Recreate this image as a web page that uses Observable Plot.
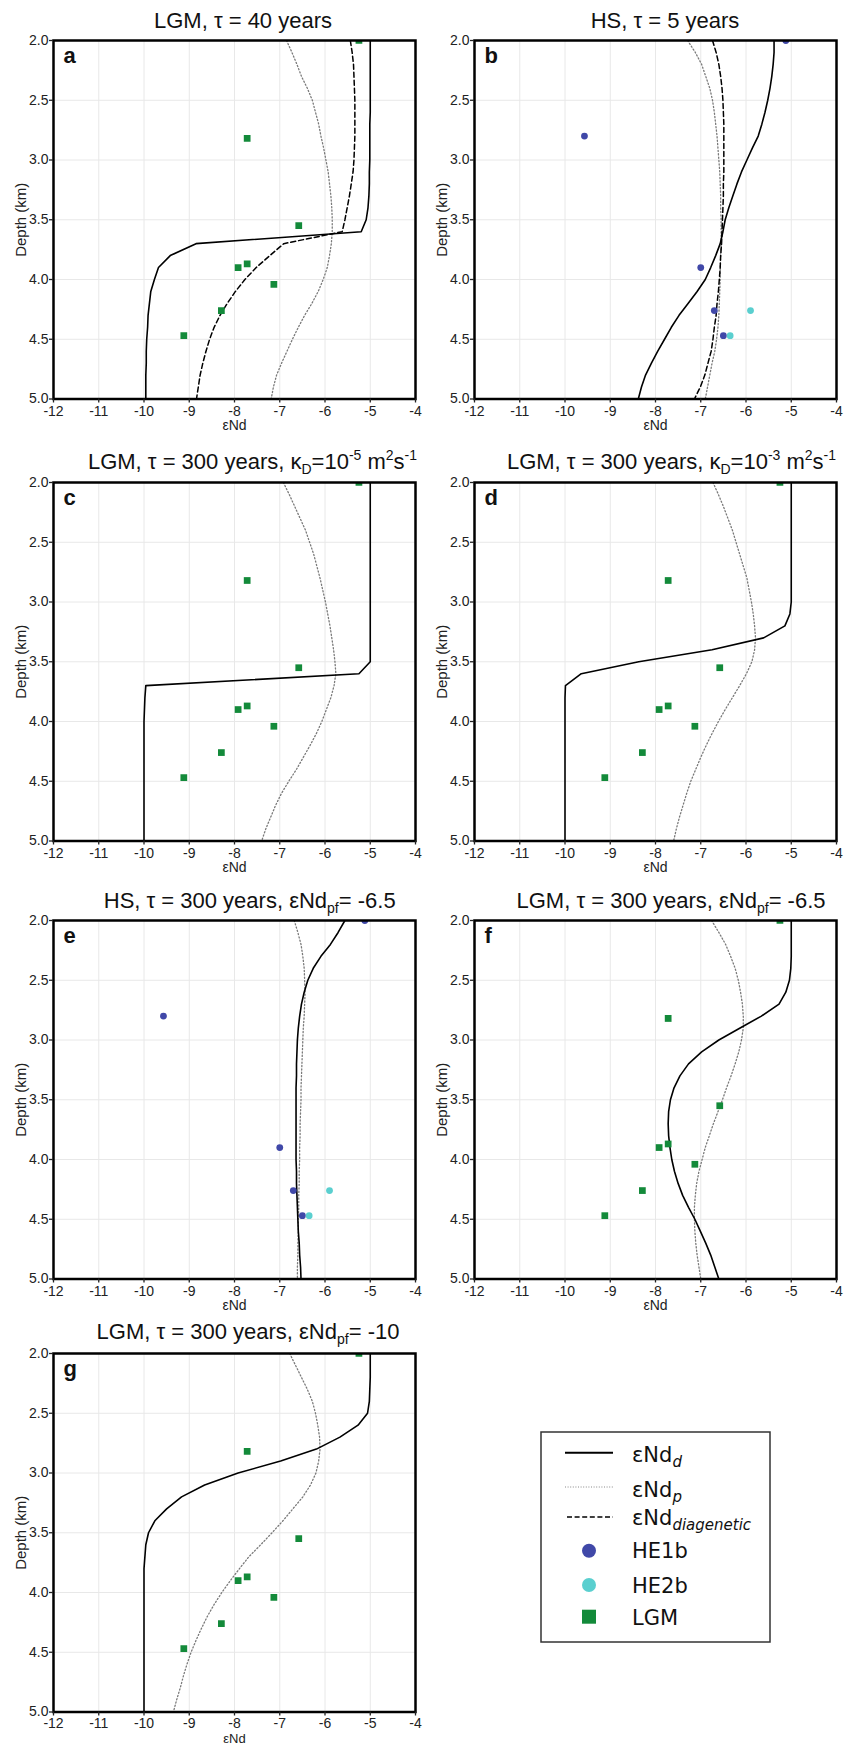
<!DOCTYPE html>
<html><head><meta charset="utf-8">
<script src="https://cdn.jsdelivr.net/npm/d3@7"></script>
<script src="https://cdn.jsdelivr.net/npm/@observablehq/plot@0.6"></script>
<style>
body{margin:0;background:#fff}
#root{position:relative;width:853px;height:1746px;background:#fff;overflow:hidden}
.panel{position:absolute}
.title{position:absolute;font-family:"Liberation Sans",Arial,sans-serif;font-size:22px;line-height:22px;color:#111;white-space:nowrap;transform:translateX(-50%)}
.title sub,.title sup{font-size:14px;line-height:0;position:relative;vertical-align:baseline}
.title sub{top:5px}
.title sup{top:-9px}
</style></head>
<body><div id="root"></div>
<script>
// ---- data ----
const xTicks = [-12, -11, -10, -9, -8, -7, -6, -5, -4];
const yTicks = [2.0, 2.5, 3.0, 3.5, 4.0, 4.5, 5.0];
const modelDepth = [2.0,2.1,2.2,2.3,2.4,2.5,2.6,2.7,2.8,2.9,3.0,3.1,3.2,3.3,3.4,3.5,3.6,3.7,3.8,3.9,4.0,4.1,4.2,4.3,4.4,4.5,4.6,4.7,4.8,4.9,5.0];

const lgmE     = [-5.25, -7.72, -6.58, -7.92, -7.72, -7.13, -8.29, -9.12];
const lgmDepth = [2.00, 2.82, 3.55, 3.90, 3.87, 4.04, 4.26, 4.47];
const he1bE     = [-5.12, -9.57, -7.00, -6.70, -6.50];
const he1bDepth = [2.00, 2.80, 3.90, 4.26, 4.47];
const he2bE     = [-5.90, -6.35];
const he2bDepth = [4.26, 4.47];

// panel a
const aD    = [-5.00,-5.00,-5.00,-5.00,-5.00,-5.00,-5.00,-5.01,-5.01,-5.01,-5.01,-5.02,-5.02,-5.03,-5.05,-5.09,-5.20,-8.85,-9.42,-9.68,-9.77,-9.85,-9.88,-9.91,-9.92,-9.94,-9.95,-9.95,-9.96,-9.96,-9.96];
const aP    = [-6.85,-6.73,-6.62,-6.52,-6.39,-6.28,-6.21,-6.14,-6.09,-6.03,-5.98,-5.93,-5.90,-5.87,-5.85,-5.84,-5.84,-5.86,-5.90,-5.95,-6.04,-6.15,-6.29,-6.45,-6.59,-6.72,-6.84,-6.96,-7.07,-7.14,-7.19];
const aDiag = [-5.44,-5.40,-5.37,-5.36,-5.35,-5.34,-5.34,-5.34,-5.34,-5.35,-5.36,-5.38,-5.42,-5.46,-5.51,-5.56,-5.62,-6.91,-7.22,-7.52,-7.77,-7.98,-8.16,-8.32,-8.45,-8.55,-8.63,-8.70,-8.76,-8.80,-8.84];
// panel b
const bD    = [-5.38,-5.38,-5.40,-5.43,-5.47,-5.52,-5.58,-5.65,-5.73,-5.86,-5.98,-6.10,-6.20,-6.29,-6.38,-6.46,-6.51,-6.57,-6.67,-6.78,-6.90,-7.08,-7.28,-7.48,-7.65,-7.80,-7.95,-8.09,-8.22,-8.31,-8.38];
const bP    = [-7.29,-7.12,-6.98,-6.89,-6.80,-6.74,-6.70,-6.67,-6.64,-6.62,-6.60,-6.58,-6.57,-6.56,-6.56,-6.55,-6.55,-6.55,-6.56,-6.57,-6.57,-6.58,-6.59,-6.60,-6.62,-6.65,-6.69,-6.75,-6.80,-6.85,-6.90];
const bDiag = [-6.74,-6.66,-6.60,-6.56,-6.53,-6.51,-6.50,-6.49,-6.49,-6.49,-6.49,-6.49,-6.50,-6.50,-6.51,-6.52,-6.53,-6.54,-6.56,-6.57,-6.59,-6.61,-6.64,-6.66,-6.70,-6.73,-6.77,-6.84,-6.91,-7.01,-7.14];
// panel c
const cD = [-5.00,-5.00,-5.00,-5.00,-5.00,-5.00,-5.00,-5.00,-5.00,-5.00,-5.00,-5.00,-5.00,-5.00,-5.00,-5.00,-5.25,-9.96,-9.98,-9.99,-10.00,-10.00,-10.00,-10.00,-10.00,-10.00,-10.00,-10.00,-10.00,-10.00,-10.00];
const cP = [-6.92,-6.79,-6.67,-6.55,-6.43,-6.34,-6.25,-6.18,-6.11,-6.05,-5.99,-5.94,-5.89,-5.85,-5.81,-5.78,-5.76,-5.80,-5.87,-5.97,-6.07,-6.19,-6.33,-6.48,-6.63,-6.80,-6.96,-7.09,-7.20,-7.31,-7.40];
// panel d
const dD = [-5.00,-5.00,-5.00,-5.00,-5.00,-5.00,-5.00,-5.00,-5.00,-5.00,-5.00,-5.03,-5.14,-5.61,-6.75,-8.37,-9.64,-9.99,-10.00,-10.00,-10.00,-10.00,-10.00,-10.00,-10.00,-10.00,-10.00,-10.00,-10.00,-10.00,-10.00];
const dP = [-6.73,-6.61,-6.50,-6.40,-6.30,-6.22,-6.14,-6.06,-5.98,-5.93,-5.88,-5.84,-5.81,-5.79,-5.81,-5.87,-5.99,-6.14,-6.30,-6.46,-6.61,-6.75,-6.88,-7.00,-7.11,-7.22,-7.31,-7.39,-7.47,-7.54,-7.60];
// panel e
const eD = [-5.56,-5.71,-5.88,-6.09,-6.26,-6.38,-6.46,-6.52,-6.56,-6.59,-6.61,-6.62,-6.63,-6.63,-6.64,-6.64,-6.64,-6.64,-6.64,-6.64,-6.64,-6.63,-6.63,-6.62,-6.61,-6.60,-6.59,-6.57,-6.56,-6.54,-6.53];
const eP = [-6.68,-6.60,-6.53,-6.49,-6.46,-6.45,-6.44,-6.45,-6.46,-6.48,-6.49,-6.50,-6.51,-6.52,-6.53,-6.53,-6.54,-6.55,-6.55,-6.56,-6.56,-6.57,-6.57,-6.58,-6.58,-6.59,-6.59,-6.60,-6.60,-6.61,-6.61];
// panel f
const fD = [-5.00,-5.00,-5.00,-5.00,-5.01,-5.04,-5.12,-5.27,-5.66,-6.13,-6.60,-6.98,-7.27,-7.46,-7.59,-7.67,-7.71,-7.72,-7.71,-7.68,-7.64,-7.58,-7.50,-7.40,-7.27,-7.13,-7.01,-6.89,-6.78,-6.69,-6.60];
const fP = [-6.76,-6.60,-6.45,-6.34,-6.24,-6.17,-6.12,-6.08,-6.06,-6.06,-6.10,-6.16,-6.24,-6.33,-6.43,-6.52,-6.62,-6.72,-6.81,-6.90,-6.97,-7.04,-7.09,-7.12,-7.14,-7.14,-7.13,-7.11,-7.08,-7.04,-7.00];
// panel g
const gD = [-5.00,-5.00,-5.00,-5.01,-5.02,-5.06,-5.27,-5.67,-6.19,-6.98,-7.92,-8.66,-9.17,-9.50,-9.76,-9.90,-9.96,-9.98,-10.00,-10.00,-10.00,-10.00,-10.00,-10.00,-10.00,-10.00,-10.00,-10.00,-10.00,-10.00,-10.00];
const gP = [-6.78,-6.65,-6.52,-6.39,-6.28,-6.21,-6.16,-6.12,-6.11,-6.14,-6.20,-6.32,-6.49,-6.71,-6.93,-7.17,-7.42,-7.68,-7.89,-8.09,-8.28,-8.45,-8.60,-8.73,-8.85,-8.96,-9.05,-9.13,-9.20,-9.28,-9.35];

const panelLetters = ["a","b","c","d","e","f","g"];
const panelTitles = [
  "LGM, τ = 40 years",
  "HS, τ = 5 years",
  "LGM, τ = 300 years, κ<sub>D</sub>=10<sup>-5</sup> m<sup>2</sup>s<sup>-1</sup>",
  "LGM, τ = 300 years, κ<sub>D</sub>=10<sup>-3</sup> m<sup>2</sup>s<sup>-1</sup>",
  "HS, τ = 300 years, εNd<sub>pf</sub>= -6.5",
  "LGM, τ = 300 years, εNd<sub>pf</sub>= -6.5",
  "LGM, τ = 300 years, εNd<sub>pf</sub>= -10"
];
const legendLabels = ["εNd", "εNd", "εNd", "HE1b", "HE2b", "LGM"];
const legendSubs = ["d", "p", "diagenetic", "", "", ""];

// ---- styles ----
const C_LGM = "#138a3a", C_HE1 = "#4048a8", C_HE2 = "#5acfcf";
const FONT = '"Liberation Sans", Arial, sans-serif';

// layout
const layout = [
  {left: 0,   top: 0,    tx: 243,   tb: 28.3,  xl: 26.5, xf: 14, tp: 3},
  {left: 421, top: 0,    tx: 665,   tb: 28.3,  xl: 26.5, xf: 14, tp: 3},
  {left: 0,   top: 442,  tx: 252.5, tb: 470,   xl: 26.5, xf: 14, tp: 3},
  {left: 421, top: 442,  tx: 671.5, tb: 470,   xl: 26.5, xf: 14, tp: 3},
  {left: 0,   top: 880,  tx: 249.7, tb: 908.3, xl: 26.5, xf: 14, tp: 3},
  {left: 421, top: 880,  tx: 671,   tb: 908.3, xl: 26.5, xf: 14, tp: 3},
  {left: 0,   top: 1313, tx: 248,   tb: 1340,  xl: 26.6, xf: 13, tp: 2}
];
const curves = [
  {d: aD, p: aP, diag: aDiag, pts: "LGM"},
  {d: bD, p: bP, diag: bDiag, pts: "HS"},
  {d: cD, p: cP, pts: "LGM"},
  {d: dD, p: dP, pts: "LGM"},
  {d: eD, p: eP, pts: "HS"},
  {d: fD, p: fP, pts: "LGM"},
  {d: gD, p: gP, pts: "LGM"}
];

const rows = arr => modelDepth.map((z, i) => ({z, e: arr[i]}));
const pts = (es, zs) => es.map((e, i) => ({e, z: zs[i]}));

const root = document.getElementById("root");

curves.forEach((c, k) => {
  const L = layout[k];
  const marks = [
    Plot.gridX(xTicks, {stroke: "#e8e8e8", strokeOpacity: 1, strokeWidth: 1}),
    Plot.gridY(yTicks, {stroke: "#e8e8e8", strokeOpacity: 1, strokeWidth: 1}),
    Plot.line(rows(c.p), {x: "e", y: "z", stroke: "#7a7a7a", strokeWidth: 1.3, strokeDasharray: "1.2,2.2", clip: true}),
  ];
  if (c.diag) marks.push(Plot.line(rows(c.diag), {x: "e", y: "z", stroke: "black", strokeWidth: 1.5, strokeDasharray: "5,3", clip: true}));
  marks.push(Plot.line(rows(c.d), {x: "e", y: "z", stroke: "black", strokeWidth: 1.6, clip: true}));
  if (c.pts === "LGM") {
    marks.push(Plot.dot(pts(lgmE, lgmDepth), {x: "e", y: "z", fill: C_LGM, symbol: "square", r: 3.8, clip: true}));
  } else {
    marks.push(Plot.dot(pts(he1bE, he1bDepth), {x: "e", y: "z", fill: C_HE1, r: 3.4, clip: true}));
    marks.push(Plot.dot(pts(he2bE, he2bDepth), {x: "e", y: "z", fill: C_HE2, r: 3.4, clip: true}));
  }
  marks.push(
    Plot.frame({stroke: "black", strokeWidth: 2.5}),
    Plot.axisX({ticks: xTicks, tickFormat: d => String(d), tickSize: 4, tickPadding: L.tp, fontSize: 14, label: null, strokeWidth: 1.3}),
    Plot.axisY({ticks: yTicks, tickFormat: d => d.toFixed(1), tickSize: 4, tickPadding: 1, fontSize: 14, label: null, strokeWidth: 1.3}),
    Plot.text(["εNd"], {text: d => d, frameAnchor: "bottom", dy: L.xl, fontSize: L.xf, lineAnchor: "middle", textAnchor: "middle", fill: "#222"}),
    Plot.text(["Depth (km)"], {text: d => d, frameAnchor: "left", dx: -32, rotate: -90, fontSize: 15, lineAnchor: "middle", textAnchor: "middle", fill: "#222"}),
    Plot.text([panelLetters[k]], {text: d => d, frameAnchor: "top-left", dx: 10, dy: 15, fontSize: 22, fontWeight: "bold", lineAnchor: "middle", textAnchor: "start", fill: "#111"})
  );
  const svg = Plot.plot({
    width: 427, height: 440,
    marginLeft: 53, marginRight: 12, marginTop: 40, marginBottom: 41.5,
    x: {domain: [-12, -4]},
    y: {domain: [2, 5], reverse: true},
    style: {background: "transparent", fontFamily: FONT, fontSize: "14px", color: "#222", overflow: "visible"},
    marks
  });
  svg.classList.add("panel");
  svg.style.left = L.left + "px";
  svg.style.top = L.top + "px";
  root.appendChild(svg);

  const t = document.createElement("div");
  t.className = "title";
  t.innerHTML = panelTitles[k];
  t.style.left = L.tx + "px";
  t.style.top = (L.tb - 18.6) + "px";
  root.appendChild(t);
});

// ---- legend ----
const lg = d3.select(root).append("svg")
  .attr("class", "panel")
  .style("left", "540px").style("top", "1431px")
  .attr("width", 232).attr("height", 213);
lg.append("rect").attr("x", 1).attr("y", 1).attr("width", 229).attr("height", 210)
  .attr("fill", "white").attr("stroke", "#333").attr("stroke-width", 1.5);
const lineY = [21.7, 56, 86];
const markY = [119.7, 154, 185.7];
const baseY = [31, 66, 94, 127, 162, 194];
lg.append("line").attr("x1", 25).attr("x2", 73).attr("y1", lineY[0]).attr("y2", lineY[0]).attr("stroke", "black").attr("stroke-width", 2);
lg.append("line").attr("x1", 25).attr("x2", 73).attr("y1", lineY[1]).attr("y2", lineY[1]).attr("stroke", "#888").attr("stroke-width", 1).attr("stroke-dasharray", "1,1.6");
lg.append("line").attr("x1", 27).attr("x2", 73).attr("y1", lineY[2]).attr("y2", lineY[2]).attr("stroke", "black").attr("stroke-width", 1.5).attr("stroke-dasharray", "5,2.6");
lg.append("circle").attr("cx", 49).attr("cy", markY[0]).attr("r", 7).attr("fill", C_HE1);
lg.append("circle").attr("cx", 49).attr("cy", markY[1]).attr("r", 7).attr("fill", C_HE2);
lg.append("rect").attr("x", 42).attr("y", markY[2] - 7).attr("width", 14).attr("height", 14).attr("fill", C_LGM);
legendLabels.forEach((lab, i) => {
  const tx = lg.append("text").attr("x", 92).attr("y", baseY[i])
    .attr("font-family", '"DejaVu Sans", sans-serif').attr("font-size", 21).attr("fill", "#111").text(lab);
  if (legendSubs[i]) {
    tx.append("tspan").attr("dy", 5).attr("font-size", 15).attr("font-style", "italic").text(legendSubs[i]);
  }
});
</script>
</body></html>
